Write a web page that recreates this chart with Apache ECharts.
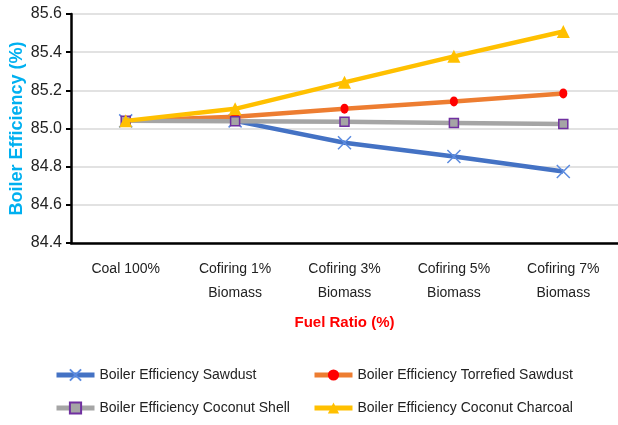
<!DOCTYPE html>
<html><head><meta charset="utf-8">
<script src="https://cdn.jsdelivr.net/npm/echarts@6/dist/echarts.min.js"></script>
<style>html,body{margin:0;padding:0;background:#fff}#c{width:618px;height:425px}</style>
</head><body><div id="c"></div>
<script>
const categories = ['Coal 100%', 'Cofiring 1%\nBiomass', 'Cofiring 3%\nBiomass', 'Cofiring 5%\nBiomass', 'Cofiring 7%\nBiomass'];
const sawdust = [85.04, 85.04, 84.925, 84.853, 84.775];
const torrefiedSawdust = [85.04, 85.062, 85.104, 85.142, 85.184];
const coconutShell = [85.04, 85.038, 85.035, 85.029, 85.023];
const coconutCharcoal = [85.04, 85.103, 85.242, 85.378, 85.508];
const seriesNames = ['Boiler Efficiency Sawdust', 'Boiler Efficiency Torrefied Sawdust', 'Boiler Efficiency Coconut Shell', 'Boiler Efficiency Coconut Charcoal'];

const FONT = "'Liberation Sans', sans-serif";
const chart = echarts.init(document.getElementById('c'));
const legendBase = { top: 363, orient: 'vertical', itemGap: 19, itemWidth: 38, itemHeight: 14,
  lineStyle: { width: 5 },
  textStyle: { fontFamily: FONT, fontSize: 14, color: '#222' } };
chart.setOption({
  animation: false,
  textStyle: { fontFamily: FONT },
  grid: { left: 71, right: 0, top: 14, bottom: 182, outerBoundsMode: 'none', containLabel: false },
  legend: [
    Object.assign({}, legendBase, { left: 49, data: [seriesNames[0], seriesNames[2]] }),
    Object.assign({}, legendBase, { left: 307, data: [seriesNames[1], seriesNames[3]] })
  ],
  xAxis: {
    type: 'category', data: categories, boundaryGap: true,
    name: 'Fuel Ratio (%)', nameLocation: 'middle', nameGap: 72, nameMoveOverlap: false,
    nameTextStyle: { color: '#FF0000', fontWeight: 'bold', fontSize: 15, fontFamily: FONT },
    axisLine: { lineStyle: { color: '#000', width: 2.5 } },
    axisTick: { alignWithLabel: true, length: 5, lineStyle: { color: '#000', width: 2 } },
    axisLabel: { color: '#222', fontSize: 14, margin: 14, lineHeight: 24, fontFamily: FONT }
  },
  yAxis: {
    type: 'value', min: 84.4, max: 85.6, interval: 0.2,
    name: 'Boiler Efficiency (%)', nameLocation: 'middle', nameGap: 45, nameMoveOverlap: false,
    nameTextStyle: { color: '#00B0F0', fontWeight: 'bold', fontSize: 18, fontFamily: FONT },
    axisLine: { show: true, lineStyle: { color: '#000', width: 2.5 } },
    axisTick: { show: true, length: 5, lineStyle: { color: '#000', width: 2 } },
    axisLabel: { color: '#222', fontSize: 16, margin: 9, fontFamily: FONT, formatter: v => v.toFixed(1) },
    splitLine: { lineStyle: { color: '#d9d9d9', width: 1.5 } }
  },
  series: [
    { name: seriesNames[0], type: 'line', data: sawdust, symbol: 'path://M0,0L10,10M10,0L0,10', symbolSize: 13,
      lineStyle: { color: '#4472C4', width: 4.5 },
      itemStyle: { color: '#4472C4', borderColor: '#5B8BE0', borderWidth: 1.5 }, z: 2 },
    { name: seriesNames[1], type: 'line', data: torrefiedSawdust, symbol: 'circle', symbolSize: [8, 10],
      lineStyle: { color: '#ED7D31', width: 4.5 },
      itemStyle: { color: '#FF0000', borderColor: '#FF0000', borderWidth: 0 }, z: 3 },
    { name: seriesNames[2], type: 'line', data: coconutShell, symbol: 'rect', symbolSize: 9,
      lineStyle: { color: '#A5A5A5', width: 4.5 },
      itemStyle: { color: '#A5A5A5', borderColor: '#7030A0', borderWidth: 1.5 }, z: 4 },
    { name: seriesNames[3], type: 'line', data: coconutCharcoal, symbol: 'triangle', symbolSize: 13,
      lineStyle: { color: '#FFC000', width: 4.5 },
      itemStyle: { color: '#FFC000', borderWidth: 0 }, z: 5 }
  ]
});
</script></body></html>
